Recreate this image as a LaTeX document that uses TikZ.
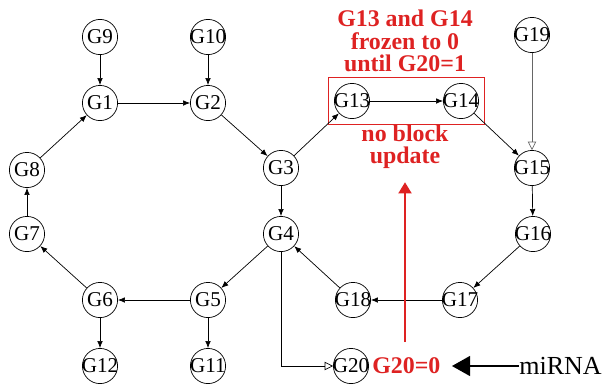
\documentclass[tikz,border=0pt]{standalone}
\usepackage{fontspec}
\setmainfont{Liberation Serif}
\usetikzlibrary{arrows.meta,fit}
\definecolor{frozenred}{RGB}{222,34,34}
\begin{document}
\begin{tikzpicture}[x=0.025cm,y=-0.025cm,
        gene/.style={draw,circle,inner sep=-4pt,minimum size=0.88cm,line width=0.5pt,font=\fontsize{15}{15}\selectfont},
        link/.style={-{Latex[length=5pt,width=4pt]},line width=0.5pt},
        openlink/.style={-{Triangle[open,length=6pt,width=6pt]},line width=0.5pt},
        note/.style={text=frozenred,font=\bfseries\fontsize{17}{16}\selectfont,align=center}]
        \useasboundingbox (0,0) rectangle (605,384);
        % left ring
        \node[gene] (G9) at (100,37) {G9};
        \node[gene] (G10) at (208,37) {G10};
        \node[gene] (G1) at (100,103) {G1};
        \node[gene] (G2) at (208,103) {G2};
        \node[gene] (G8) at (27,170) {G8};
        \node[gene] (G3) at (281,168) {G3};
        \node[gene] (G7) at (27,234) {G7};
        \node[gene] (G4) at (281,234) {G4};
        \node[gene] (G6) at (100,300) {G6};
        \node[gene] (G5) at (208,300) {G5};
        \node[gene] (G12) at (100,366) {G12};
        \node[gene] (G11) at (208,366) {G11};
        % right ring
        \node[gene] (G13) at (352,101) {G13};
        \node[gene] (G14) at (461,101) {G14};
        \node[gene] (G19) at (532,35) {G19};
        \node[gene] (G15) at (532,168) {G15};
        \node[gene] (G16) at (533,234) {G16};
        \node[gene] (G17) at (460,300) {G17};
        \node[gene] (G18) at (353,300) {G18};
        \node[gene] (G20) at (351,366) {G20};
        % notes
        \node[draw=frozenred,line width=0.5pt,inner sep=4pt,fit=(G13)(G14)] (frozenbox) {};
        \node[note] (frozen) at (405,41) {G13 and G14\\frozen to 0\\until G20=1};
        \node[note,font=\bfseries\fontsize{17}{15.5}\selectfont] (noblock) at (405,147) {no block\\update};
        \node[note,anchor=west,inner sep=0pt] (G20val) at (372,366) {G20=0};
        \node[anchor=west,inner sep=0pt,font=\fontsize{18.5}{19}\selectfont] (miRNA) at (519,366) {miRNA};
        % edges
        \draw[link] (G9) -- (G1);
        \draw[link] (G10) -- (G2);
        \draw[link] (G1) -- (G2);
        \draw[link] (G2) -- (G3);
        \draw[link] (G3) -- (G4);
        \draw[link] (G3) -- (G13);
        \draw[link] (G13) -- (G14);
        \draw[link] (G14) -- (G15);
        \draw[openlink,draw=black!60] (G19) -- (G15);
        \draw[link] (G15) -- (G16);
        \draw[link] (G16) -- (G17);
        \draw[link] (G17) -- (G18);
        \draw[link] (G18) -- (G4);
        \draw[link] (G4) -- (G5);
        \draw[link] (G5) -- (G6);
        \draw[link] (G5) -- (G11);
        \draw[link] (G6) -- (G12);
        \draw[link] (G6) -- (G7);
        \draw[link] (G7) -- (G8);
        \draw[link] (G8) -- (G1);
        \draw[openlink] (G4.south) |- (G20.west);
        \draw[-{Triangle[length=13pt,width=14pt]},line width=2pt,shorten >=8pt] (miRNA.west) -- (G20val.east);
        \draw[-{Triangle[length=8pt,width=9pt]},draw=frozenred,fill=frozenred,line width=2pt,shorten <=11pt,shorten >=6pt] (G20val.north -| noblock.south) -- (noblock.south);
\end{tikzpicture}
\end{document}
